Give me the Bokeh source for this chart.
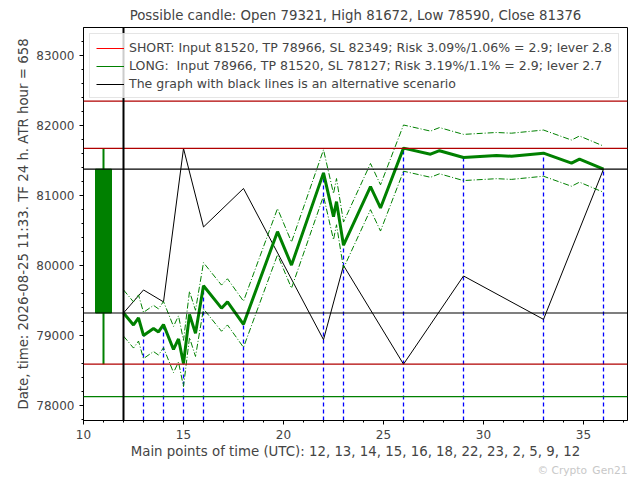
from bokeh.plotting import figure
from bokeh.models import Span, Range1d, FixedTicker, Legend, LegendItem, Title
from bokeh.embed import file_html
from bokeh.resources import INLINE

main_t = [12, 12.5, 12.75, 13, 13.5, 13.75, 14, 14.5, 14.75, 15, 15.3, 15.6, 16, 16.9, 17.2, 18, 19.7, 20.4, 22, 22.5, 22.65, 23, 24.35, 24.85, 26, 27.35, 27.8, 29, 30.65, 31.4, 33, 34.4, 34.8, 36]
main_v = [79321, 79150, 79250, 79000, 79100, 79050, 79155, 78800, 78950, 78600, 79300, 79030, 79710, 79390, 79480, 79160, 80483, 80005, 81323, 80697, 80912, 80290, 81127, 80822, 81677, 81590, 81640, 81543, 81570, 81560, 81605, 81462, 81520, 81376]
up_v = [79651, 79480, 79580, 79330, 79430, 79380, 79485, 79130, 79280, 78930, 79630, 79360, 80040, 79720, 79810, 79490, 80813, 80335, 81653, 81027, 81242, 80620, 81457, 81152, 82007, 81920, 81970, 81873, 81900, 81890, 81935, 81792, 81850, 81706]
lo_v = [78991, 78820, 78920, 78670, 78770, 78720, 78825, 78470, 78620, 78270, 78970, 78700, 79380, 79060, 79150, 78830, 80153, 79675, 80993, 80367, 80582, 79960, 80797, 80492, 81347, 81260, 81310, 81213, 81240, 81230, 81275, 81132, 81190, 81046]
alt_t = [12, 13, 14, 15, 16, 18, 22, 23, 26, 29, 33, 36]
alt_v = [79321, 79650, 79480, 81672, 80550, 81100, 78940, 80000, 78590, 79850, 79230, 81376]
key_t = [13, 14, 15, 16, 18, 22, 23, 26, 29, 33, 36]
key_v = [79002, 79155, 78600, 79710, 79160, 81323, 80290, 81677, 81543, 81605, 81376]
candle = dict(t=11, open=79321, high=81672, low=78590, close=81376)
levels_red = [82349, 81672, 78590]
levels_black = [81376, 79321]
level_green = 78127

p = figure(width=632, height=476, output_backend="svg", toolbar_location=None,
           x_range=Range1d(10, 37.2), y_range=Range1d(77785, 83400),
           title="Possible candle: Open 79321, High 81672, Low 78590, Close 81376",
           min_border_left=83, min_border_right=5, min_border_top=27, min_border_bottom=50)
p.title.align = "center"; p.title.text_font = "DejaVu Sans"; p.title.text_font_size = "10pt"; p.title.text_font_style = "normal"
p.xgrid.visible = False; p.ygrid.visible = False
p.outline_line_color = "black"
p.xaxis.ticker = FixedTicker(ticks=[10, 15, 20, 25, 30, 35], minor_ticks=list(range(10, 38)))
p.yaxis.ticker = FixedTicker(ticks=list(range(78000, 83001, 1000)), minor_ticks=list(range(77800, 83400, 200)))
p.xaxis.axis_label = "Main points of time (UTC): 12, 13, 14, 15, 16, 18, 22, 23, 2, 5, 9, 12"
p.yaxis.axis_label = "Date, time: 2026-08-25 11:33. TF 24 h. ATR hour = 658"
for ax in (p.xaxis[0], p.yaxis[0]):
    ax.axis_label_text_font = "DejaVu Sans"; ax.axis_label_text_font_size = "10pt"; ax.axis_label_text_font_style = "normal"
    ax.major_label_text_font = "DejaVu Sans"; ax.major_label_text_font_size = "9pt"
    ax.major_tick_in = 0; ax.major_tick_out = 4; ax.minor_tick_in = 0; ax.minor_tick_out = 2
    ax.axis_label_standoff = 2

for lv in levels_red:
    p.add_layout(Span(location=lv, dimension="width", line_color="#b00000", line_width=1.2))
for lv in levels_black:
    p.add_layout(Span(location=lv, dimension="width", line_color="black", line_width=1.2))
p.add_layout(Span(location=level_green, dimension="width", line_color="green", line_width=1.2))
p.add_layout(Span(location=12, dimension="height", line_color="black", line_width=2))

p.segment(x0=key_t, y0=[77785]*len(key_t), x1=key_t, y1=key_v, line_color="#0000ff", line_dash="4 3", line_width=1.3)
p.segment(x0=[candle["t"]], y0=[candle["low"]], x1=[candle["t"]], y1=[candle["high"]], line_color="green", line_width=2)
p.vbar(x=[candle["t"]], width=0.8, bottom=[candle["open"]], top=[candle["close"]], fill_color="green", line_color="green")

r_alt = p.line(alt_t, alt_v, line_color="black", line_width=1)
p.line(main_t, up_v, line_color="green", line_width=1, line_dash="6 2 1 2")
p.line(main_t, lo_v, line_color="green", line_width=1, line_dash="6 2 1 2")
p.line(main_t, main_v, line_color="green", line_width=3)

r_s = p.line([0, 1], [0, 0], line_color="red", line_width=1)
r_l = p.line([0, 1], [0, 0], line_color="green", line_width=1)
leg = Legend(items=[
    LegendItem(label="SHORT: Input 81520, TP 78966, SL 82349; Risk 3.09%/1.06% = 2.9; lever 2.8", renderers=[r_s]),
    LegendItem(label="LONG:  Input 78966, TP 81520, SL 78127; Risk 3.19%/1.1% = 2.9; lever 2.7", renderers=[r_l]),
    LegendItem(label="The graph with black lines is an alternative scenario", renderers=[r_alt]),
], location="top_left", label_text_font="DejaVu Sans", label_text_font_size="9.4pt",
   glyph_width=28, glyph_height=12, spacing=3, padding=6, margin=6, label_height=14,
   border_line_color="#cccccc", background_fill_alpha=0.8)
p.add_layout(leg)
p.add_layout(Title(text="© Crypto_Gen21", align="right", text_color="#c8c8c8", text_font="DejaVu Sans",
                   text_font_size="8pt", text_font_style="normal", standoff=0, offset=0), "below")

open("out.html", "w").write(file_html(p, INLINE))
